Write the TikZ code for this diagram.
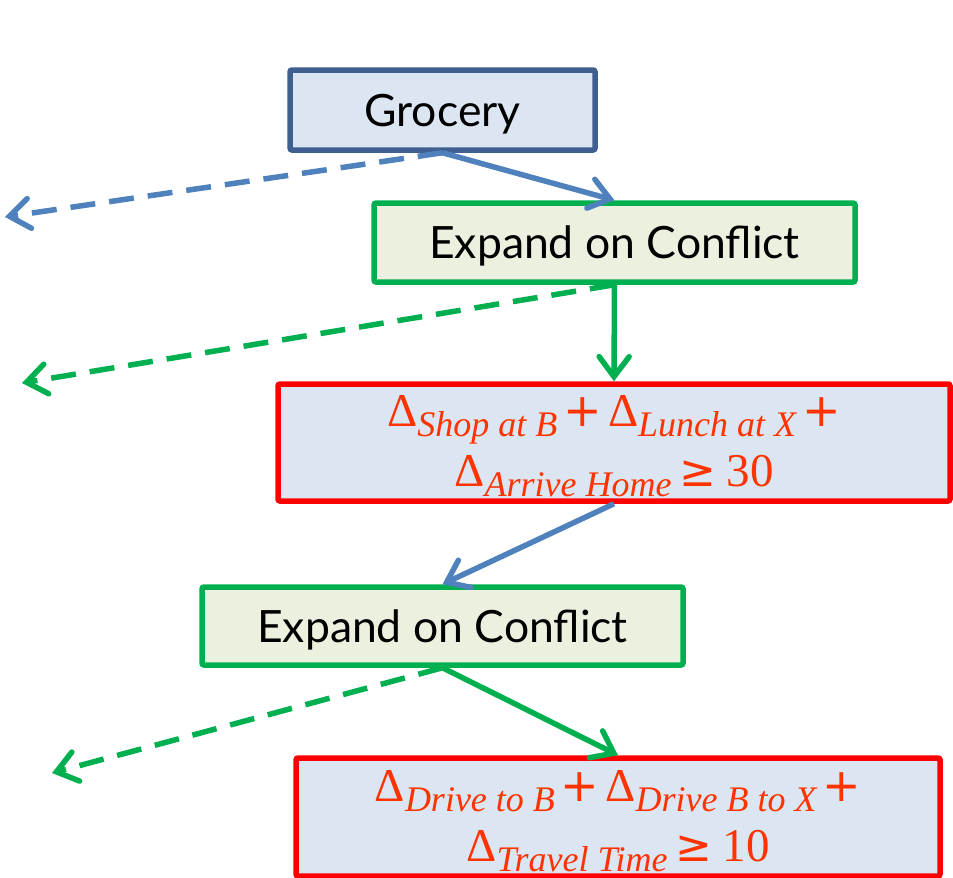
\documentclass[tikz,border=0pt]{standalone}
\usepackage{fontspec}
\setmainfont{Lato}
\newfontfamily\mathtxt{Liberation Serif}
\newfontfamily\symfont{DejaVu Sans}
\usetikzlibrary{arrows.meta}
\definecolor{gborder}{HTML}{3F5F8F}
\definecolor{bfill}{HTML}{DCE6F2}
\definecolor{grn}{HTML}{00B050}
\definecolor{gfill}{HTML}{EBF1DE}
\definecolor{arrblue}{HTML}{4F81BD}
\definecolor{rtext}{HTML}{FF3300}
\newcommand{\dsub}[1]{{\mathtxt\fontsize{47}{54}\selectfont Δ}\raisebox{-10pt}{\mathtxt\itshape\fontsize{36}{36}\selectfont #1}}
\newcommand{\mplus}{\hspace{6pt}{\symfont\fontsize{46}{54}\selectfont +}\hspace{6pt}}
\newcommand{\mgeq}{\hspace{8pt}{\symfont\fontsize{44}{54}\selectfont ≥}\hspace{10pt}}
\tikzset{
  box/.style={draw, line width=5.5pt, rounded corners=2pt, inner sep=0pt, align=center},
  bluebox/.style={box, draw=gborder, fill=bfill, font=\fontsize{44.5}{50}\selectfont, text depth=0pt},
  greenbox/.style={box, draw=grn, fill=gfill, font=\fontsize{44.5}{50}\selectfont, text depth=0pt},
  redbox/.style={box, draw=red, fill=bfill},
  redtext/.style={inner sep=0pt, align=center, text=rtext, font=\mathtxt\fontsize{47}{54}\selectfont},
  tip/.style={-{Straight Barb[length=20pt,width=30pt,line width=5.5pt,line cap=round]}},
  conn/.style={line width=5.5pt, tip},
  dconn/.style={conn, dash pattern=on 25pt off 14pt},
}
\begin{document}
\begin{tikzpicture}[x=1pt,y=-1pt]
\useasboundingbox (0,0) rectangle (953,878);
\node[bluebox, minimum width=305pt, minimum height=80pt] (g) at (442.5,110) {Grocery};
\node[greenbox, minimum width=481pt, minimum height=79pt] (e1) at (614.5,242.5) {Expand on Conflict};
\node[redbox, minimum width=672pt, minimum height=117pt] (r1) at (614,442.5) {};
\node[redtext] (r1t) at ([yshift=-4pt]r1.center)
  {\dsub{Shop at B}\mplus\dsub{Lunch at X}\mplus\\[6pt]\dsub{Arrive Home}\mgeq 30};
\node[greenbox, minimum width=481pt, minimum height=78pt] (e2) at (442.5,626) {Expand on Conflict};
\node[redbox, minimum width=644pt, minimum height=118pt] (r2) at (618,817) {};
\node[redtext] (r2t) at ([yshift=-4pt]r2.center)
  {\dsub{Drive to B}\mplus\dsub{Drive B to X}\mplus\\[6pt]\dsub{Travel Time}\mgeq 10};
\coordinate (d1) at (5,217);
\coordinate (d2) at (22,383);
\coordinate (d3) at (52,773);
\draw[conn, arrblue] (g.south) -- (e1.north);
\draw[dconn, arrblue] (g.south) -- (d1);
\draw[conn, grn] (e1.south) -- (r1.north);
\draw[dconn, grn] (e1.south) -- (d2);
\draw[conn, arrblue] (r1.south) -- (e2.north);
\draw[conn, grn] (e2.south) -- (r2.north);
\draw[dconn, grn] (e2.south) -- (d3);
\end{tikzpicture}
\end{document}
